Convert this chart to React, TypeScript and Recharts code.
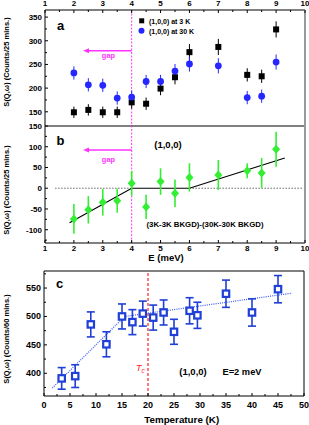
import React from "react";
import {
  ComposedChart,
  Scatter,
  Line,
  XAxis,
  YAxis,
  ErrorBar,
  ReferenceLine,
  ReferenceDot,
} from "recharts";

const FONT = "'Liberation Sans', Arial, Helvetica, sans-serif";
const MAGENTA = "#ff33ff";
const BLUE_A = "#2626ff";
const GREEN = "#33ee33";
const BLUE_C = "#1f3fd6";
const RED = "#ff2222";

// panels a & b: energy scans at (1,0,0)
const energies = [2, 2.5, 3, 3.5, 4, 4.5, 5, 5.5, 6, 7, 8, 8.5, 9];
const counts3K = [149, 154, 149, 149, 170, 167, 199, 223, 276, 287, 228, 225, 324];
const err3K = [12, 12, 12, 12, 13, 13, 14, 15, 17, 17, 14, 14, 17];
const counts30K = [232, 207, 206, 179, 181, 214, 214, 236, 251, 247, 180, 183, 255];
const err30K = [14, 14, 14, 14, 14, 14, 14, 15, 16, 16, 14, 14, 16];
const diffCounts = [-74, -52, -34, -30, 12, -45, 16, -12, 26, 32, 42, 37, 94];
const diffErr = [36, 33, 32, 29, 30, 29, 32, 33, 34, 36, 18, 36, 42];

// guide line in panel b
const guideE = [1.85, 4, 6, 9.3];
const guideDiff = [-83, 0, 0, 73];

// panel c: temperature dependence at E = 2 meV
const temps = [3.4, 6, 9, 12, 15, 17, 19, 21, 23, 25, 28, 29.5, 35, 40, 45];
const countsT = [391, 395, 486, 451, 500, 490, 505, 498, 507, 473, 510, 502, 540, 507, 548];
const errT = [19, 20, 22, 22, 22, 22, 22, 22, 22, 22, 23, 23, 24, 24, 24];
const guideT = [1.6, 15.5, 47.7];
const guideCounts = [374, 500, 541];

// ticks
const eTicks = [1, 2, 3, 4, 5, 6, 7, 8, 9, 10];
const eMinor = [1.5, 2.5, 3.5, 4.5, 5.5, 6.5, 7.5, 8.5, 9.5];
const aTicks = [150, 200, 250, 300, 350];
const aMinor = [175, 225, 275, 325];
const bTicks = [-100, -50, 0, 50, 100, 150];
const bMinor = [-125, -75, -25, 25, 75, 125];
const tTicks = [0, 5, 10, 15, 20, 25, 30, 35, 40, 45, 50];
const tMinor = [2.5, 7.5, 12.5, 17.5, 22.5, 27.5, 32.5, 37.5, 42.5, 47.5];
const cTicks = [400, 450, 500, 550];
const cMinor = [375, 425, 475, 525, 575];

const E_DOMAIN: [number, number] = [1, 10];
const A_DOMAIN: [number, number] = [120, 365];
const B_DOMAIN: [number, number] = [-132, 150];
const T_DOMAIN: [number, number] = [0, 50];
const C_DOMAIN: [number, number] = [360, 580];

const gapFrom = 2.42;
const gapTo = 4;
const gapA = 279;
const gapB = 92;

const rows = (xs: number[], ys: number[], es?: number[]) =>
  xs.map((x, i) => ({ x, y: ys[i], err: es ? es[i] : 0 }));

function xTick(major: number[], dir: number, labelDy: number | null, fontSize = 8) {
  return (p: any) => {
    const v = p.payload.value;
    const isMajor = major.includes(v);
    const len = isMajor ? 3 : 2;
    return (
      <g>
        <line x1={p.x} x2={p.x} y1={p.y} y2={p.y + dir * len} stroke="#000" strokeWidth={1} />
        {isMajor && labelDy !== null && (
          <text x={p.x} y={p.y + labelDy} textAnchor="middle" fontSize={fontSize} fontWeight="bold" fontFamily={FONT} fill="#000">
            {v}
          </text>
        )}
      </g>
    );
  };
}

function yTick(major: number[], fontSize = 8) {
  return (p: any) => {
    const v = p.payload.value;
    const isMajor = major.includes(v);
    const len = isMajor ? 3 : 2;
    return (
      <g>
        <line x1={p.x} x2={p.x + len} y1={p.y} y2={p.y} stroke="#000" strokeWidth={1} />
        {isMajor && (
          <text x={p.x - 3} y={p.y + 3} textAnchor="end" fontSize={fontSize} fontWeight="bold" fontFamily={FONT} fill="#000">
            {v}
          </text>
        )}
      </g>
    );
  };
}

const blackSquare = (p: any) => <rect x={p.cx - 3} y={p.cy - 3} width={6} height={6} fill="#000" />;
const blueCircle = (p: any) => <circle cx={p.cx} cy={p.cy} r={3.4} fill={BLUE_A} />;
const greenDiamond = (p: any) => (
  <polygon
    points={`${p.cx},${p.cy - 4.5} ${p.cx + 4},${p.cy} ${p.cx},${p.cy + 4.5} ${p.cx - 4},${p.cy}`}
    fill={GREEN}
  />
);
const hollowSquare = (p: any) => (
  <rect x={p.cx - 3.2} y={p.cy - 3.2} width={6.4} height={6.4} fill="#fff" stroke={BLUE_C} strokeWidth={2.2} />
);
const leftArrow = (p: any) => (
  <polygon points={`${p.cx - 3},${p.cy} ${p.cx + 3},${p.cy - 2.5} ${p.cx + 3},${p.cy + 2.5}`} fill={MAGENTA} />
);

const txt = { fontFamily: FONT, fontWeight: "bold" as const };

export default function App() {
  const rows3K = rows(energies, counts3K, err3K);
  const rows30K = rows(energies, counts30K, err30K);
  const rowsDiff = rows(energies, diffCounts, diffErr);
  const rowsGuideB = rows(guideE, guideDiff);
  const rowsT = rows(temps, countsT, errT);
  const rowsGuideC = rows(guideT, guideCounts);

  return (
    <div style={{ position: "absolute", left: 0, top: 0, width: 309, height: 425, background: "#fff" }}>
      {/* panel a */}
      <div style={{ position: "absolute", left: 0, top: 0 }}>
        <ComposedChart width={309} height={128} margin={{ top: 9, right: 3, bottom: 1, left: 44 }}>
          <XAxis type="number" dataKey="x" orientation="top" height={1} domain={E_DOMAIN} allowDataOverflow
            ticks={[...eTicks, ...eMinor]} interval={0} tickSize={0} tickMargin={0} tickLine={false}
            axisLine={{ stroke: "#000" }} tick={xTick(eTicks, 1, -4)} />
          <XAxis xAxisId="frame" type="number" orientation="bottom" height={1} domain={E_DOMAIN} allowDataOverflow
            ticks={[...eTicks, ...eMinor]} interval={0} tickSize={0} tickMargin={0} tickLine={false}
            axisLine={{ stroke: "#000" }} tick={xTick(eTicks, -1, null)} />
          <YAxis type="number" dataKey="y" width={1} domain={A_DOMAIN} allowDataOverflow
            ticks={[...aTicks, ...aMinor]} interval={0} tickSize={0} tickMargin={0} tickLine={false}
            axisLine={{ stroke: "#000" }} tick={yTick(aTicks)} />
          <YAxis yAxisId="frame" type="number" orientation="right" width={1} domain={A_DOMAIN} allowDataOverflow
            tick={false} tickLine={false} axisLine={{ stroke: "#9a9a9a", strokeWidth: 2 }} />
          <ReferenceLine x={4} stroke={MAGENTA} strokeDasharray="2 1.5" strokeWidth={1} />
          <ReferenceLine segment={[{ x: gapFrom + 0.1, y: gapA }, { x: gapTo, y: gapA }]} stroke={MAGENTA} strokeWidth={1.5} />
          <ReferenceDot x={gapFrom} y={gapA} r={0} shape={leftArrow} />
          <Scatter data={rows3K} shape={blackSquare} isAnimationActive={false}>
            <ErrorBar dataKey="err" direction="y" width={0} stroke="#000" strokeWidth={1} />
          </Scatter>
          <Scatter data={rows30K} shape={blueCircle} isAnimationActive={false}>
            <ErrorBar dataKey="err" direction="y" width={0} stroke={BLUE_A} strokeWidth={1} />
          </Scatter>
        </ComposedChart>
      </div>

      {/* panel b */}
      <div style={{ position: "absolute", left: 0, top: 116 }}>
        <ComposedChart width={309} height={146} margin={{ top: 10, right: 3, bottom: 18, left: 44 }}>
          <XAxis type="number" dataKey="x" orientation="bottom" height={1} domain={E_DOMAIN} allowDataOverflow
            ticks={[...eTicks, ...eMinor]} interval={0} tickSize={0} tickMargin={0} tickLine={false}
            axisLine={{ stroke: "#000" }} tick={xTick(eTicks, -1, 8)} />
          <YAxis type="number" dataKey="y" width={1} domain={B_DOMAIN} allowDataOverflow
            ticks={[...bTicks, ...bMinor]} interval={0} tickSize={0} tickMargin={0} tickLine={false}
            axisLine={{ stroke: "#000" }} tick={yTick(bTicks)} />
          <YAxis yAxisId="frame" type="number" orientation="right" width={1} domain={B_DOMAIN} allowDataOverflow
            tick={false} tickLine={false} axisLine={{ stroke: "#9a9a9a", strokeWidth: 2 }} />
          <ReferenceLine segment={[{ x: 1.35, y: 0 }, { x: 4, y: 0 }]} stroke="#666" strokeDasharray="1.5 1.5" />
          <ReferenceLine segment={[{ x: 6, y: 0 }, { x: 9.9, y: 0 }]} stroke="#666" strokeDasharray="1.5 1.5" />
          <ReferenceLine x={4} stroke={MAGENTA} strokeDasharray="2 1.5" strokeWidth={1} />
          <ReferenceLine segment={[{ x: gapFrom + 0.1, y: gapB }, { x: gapTo, y: gapB }]} stroke={MAGENTA} strokeWidth={1.5} />
          <ReferenceDot x={gapFrom} y={gapB} r={0} shape={leftArrow} />
          <Line data={rowsGuideB} dataKey="y" type="linear" stroke="#000" strokeWidth={1.2}
            dot={false} activeDot={false} isAnimationActive={false} />
          <Scatter data={rowsDiff} shape={greenDiamond} isAnimationActive={false}>
            <ErrorBar dataKey="err" direction="y" width={0} stroke={GREEN} strokeWidth={1.6} />
          </Scatter>
        </ComposedChart>
      </div>

      {/* panel c */}
      <div style={{ position: "absolute", left: 0, top: 262 }}>
        <ComposedChart width={309} height={163} margin={{ top: 8, right: 4, bottom: 28, left: 43 }}>
          <XAxis type="number" dataKey="x" orientation="bottom" height={1} domain={T_DOMAIN} allowDataOverflow
            ticks={[...tTicks, ...tMinor]} interval={0} tickSize={0} tickMargin={0} tickLine={false}
            axisLine={{ stroke: "#000" }} tick={xTick(tTicks, -1, 11.5, 9)} />
          <XAxis xAxisId="frame" type="number" orientation="top" height={1} domain={T_DOMAIN} allowDataOverflow
            tick={false} tickLine={false} axisLine={{ stroke: "#000" }} />
          <YAxis type="number" dataKey="y" width={1} domain={C_DOMAIN} allowDataOverflow
            ticks={[...cTicks, ...cMinor]} interval={0} tickSize={0} tickMargin={0} tickLine={false}
            axisLine={{ stroke: "#000" }} tick={yTick(cTicks, 9)} />
          <YAxis yAxisId="frame" type="number" orientation="right" width={1} domain={C_DOMAIN} allowDataOverflow
            tick={false} tickLine={false} axisLine={{ stroke: "#000" }} />
          <ReferenceLine x={20} stroke={RED} strokeDasharray="3 2" strokeWidth={1.2} />
          <Line data={rowsGuideC} dataKey="y" type="linear" stroke="#3355ff" strokeWidth={1.2} strokeDasharray="1 1.2"
            dot={false} activeDot={false} isAnimationActive={false} />
          <Scatter data={rowsT} shape={hollowSquare} isAnimationActive={false}>
            <ErrorBar dataKey="err" direction="y" width={4} stroke={BLUE_C} strokeWidth={1.6} />
          </Scatter>
        </ComposedChart>
      </div>

      {/* labels */}
      <svg width={309} height={425} style={{ position: "absolute", left: 0, top: 0, pointerEvents: "none" }}>
        <text x={8.5} y={62} transform="rotate(-90 8.5 62)" textAnchor="middle" fontSize={7.5} {...txt}>
          S(Q,ω) (Counts/25 mins.)
        </text>
        <text x={8.5} y={190} transform="rotate(-90 8.5 190)" textAnchor="middle" fontSize={7.5} {...txt}>
          S(Q,ω) (Counts/25 mins.)
        </text>
        <text x={8.5} y={339} transform="rotate(-90 8.5 339)" textAnchor="middle" fontSize={7.5} {...txt}>
          S(Q,ω) (Counts/60 mins.)
        </text>

        <text x={60.5} y={30} textAnchor="middle" fontSize={13} {...txt}>a</text>
        <text x={60.5} y={145} textAnchor="middle" fontSize={13} {...txt}>b</text>
        <text x={59.5} y={287.7} textAnchor="middle" fontSize={13} {...txt}>c</text>

        <rect x={139.2} y={18.3} width={5} height={5} fill="#000" />
        <text x={149} y={23.5} fontSize={7} {...txt}>(1,0,0) at 3 K</text>
        <circle cx={141.5} cy={30.7} r={3} fill={BLUE_A} />
        <text x={149} y={33.5} fontSize={7} {...txt}>(1,0,0) at 30 K</text>

        <text x={108.5} y={58.3} textAnchor="middle" fontSize={7.5} fill={MAGENTA} {...txt}>gap</text>
        <text x={108.5} y={161.5} textAnchor="middle" fontSize={7.5} fill={MAGENTA} {...txt}>gap</text>

        <text x={168} y={148} textAnchor="middle" fontSize={9.5} {...txt}>(1,0,0)</text>
        <text x={205} y={226.5} textAnchor="middle" fontSize={7.8} {...txt}>(3K-3K BKGD)-(30K-30K BKGD)</text>
        <text x={166} y={260.5} textAnchor="middle" fontSize={9.5} {...txt}>E (meV)</text>

        <text x={136} y={371} fontSize={9} fontFamily={FONT} fontStyle="italic" fill={RED}>
          T<tspan fontSize={6.5} dy={1.5}>c</tspan>
        </text>
        <text x={193} y={375} textAnchor="middle" fontSize={9.5} {...txt}>(1,0,0)</text>
        <text x={242} y={375} textAnchor="middle" fontSize={9.3} {...txt}>E=2 meV</text>
        <text x={181.7} y={422.5} textAnchor="middle" fontSize={9.8} {...txt}>Temperature (K)</text>
      </svg>
    </div>
  );
}
